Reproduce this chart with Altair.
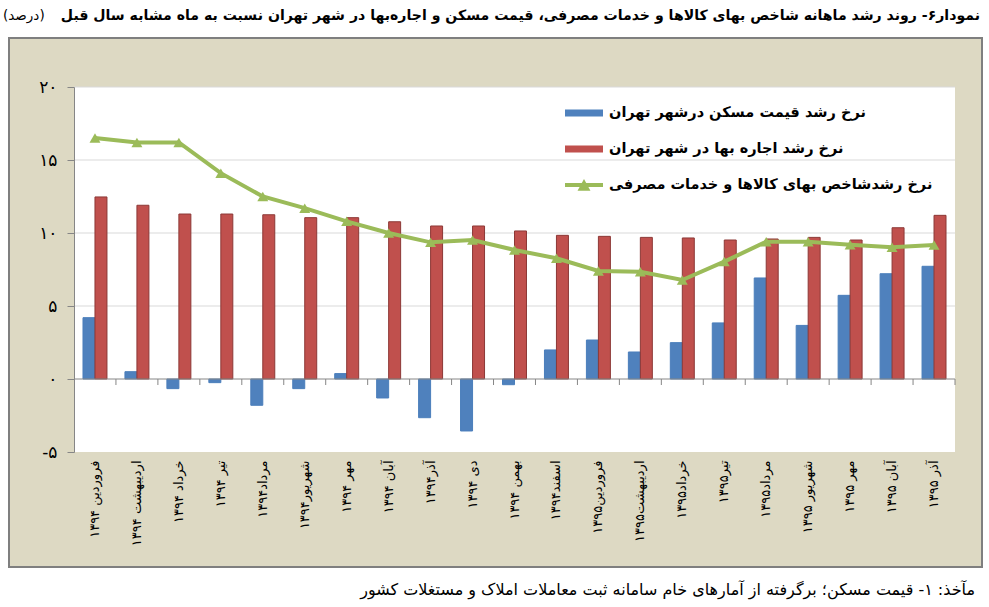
import altair as alt
import pandas as pd

# ---------------- data ----------------
MONTHS = ["فروردین ۱۳۹۴", "اردیبهشت ۱۳۹۴", "خرداد ۱۳۹۴", "تیر ۱۳۹۴", "مرداد۱۳۹۴",
          "شهریور۱۳۹۴", "مهر ۱۳۹۴", "آبان ۱۳۹۴", "آذر۱۳۹۴", "دی ۱۳۹۴", "بهمن ۱۳۹۴",
          "اسفند۱۳۹۴", "فروردین۱۳۹۵", "اردیبهشت۱۳۹۵", "خرداد۱۳۹۵", "تیر۱۳۹۵",
          "مرداد۱۳۹۵", "شهریور ۱۳۹۵", "مهر ۱۳۹۵", "آبان ۱۳۹۵", "آذر ۱۳۹۵"]
HOUSING = [4.2, 0.5, -0.66, -0.25, -1.8, -0.66, 0.37, -1.3, -2.65, -3.56, -0.39,
           1.99, 2.67, 1.85, 2.49, 3.84, 6.92, 3.67, 5.73, 7.21, 7.72]
RENT = [12.47, 11.9, 11.3, 11.3, 11.25, 11.05, 11.05, 10.77, 10.48, 10.48, 10.14,
        9.84, 9.77, 9.7, 9.66, 9.52, 9.59, 9.7, 9.52, 10.36, 11.21]
CPI = [16.5, 16.2, 16.2, 14.1, 12.5, 11.7, 10.8, 10.0, 9.36, 9.52, 8.84,
       8.27, 7.4, 7.35, 6.78, 8.04, 9.4, 9.4, 9.2, 9.02, 9.18]

S_HOUSE = "نرخ رشد قیمت مسکن  درشهر تهران"
S_RENT = "نرخ رشد اجاره بها در شهر تهران"
S_CPI = "نرخ رشدشاخص بهای کالاها و خدمات مصرفی"

Y_TICKS = [-5, 0, 5, 10, 15, 20]
Y_TICK_LABELS = ["-۵", "۰", "۵", "۱۰", "۱۵", "۲۰"]
GRID_VALUES = [5, 10, 15, 20]

TITLE = "نمودار۶- روند رشد ماهانه شاخص بهای کالاها و خدمات مصرفی، قیمت مسکن و اجاره‌بها در شهر تهران نسبت به ماه مشابه سال قبل"
UNIT = "(درصد)"
FOOTER = "مآخذ: ۱- قیمت مسکن؛ برگرفته از آمارهای خام سامانه ثبت معاملات املاک و مستغلات کشور"

# ---------------- styling ----------------
FONT = "DejaVu Sans"
BLUE, RED, GREEN = "#4F81BD", "#C0504D", "#9BBB59"
BLUE_EDGE, RED_EDGE = "#4A7EBB", "#8C3836"
BEIGE, FRAME = "#DDD9C3", "#7F7F7F"
W, H = 881, 365

bars_df = pd.DataFrame({
    "month": MONTHS * 2,
    "series": [S_HOUSE] * len(MONTHS) + [S_RENT] * len(MONTHS),
    "value": HOUSING + RENT,
})
cpi_df = pd.DataFrame({"month": MONTHS, "series": [S_CPI] * len(MONTHS), "value": CPI})
month_df = pd.DataFrame({"month": MONTHS})
grid_df = pd.DataFrame({"v": GRID_VALUES})
one = pd.DataFrame({"k": [0]})

label_map = "{" + ",".join(f"'{v}':'{l}'" for v, l in zip(Y_TICKS, Y_TICK_LABELS)) + "}"

y_axis = alt.Axis(values=Y_TICKS, labelExpr=f"{label_map}[''+datum.value]", title=None,
                  grid=False, domainColor="#868686", tickColor="#868686", tickSize=7,
                  labelFontSize=17, labelPadding=10, labelFont=FONT, labelColor="black",
                  zindex=1)
y_scale = alt.Scale(domain=[-5, 20], nice=False, zero=False)

x_axis = alt.Axis(title=None, labelAngle=-90, labelFontSize=13, labelFont=FONT,
                  labelColor="black", labelPadding=8, ticks=False, domain=False,
                  labelLimit=200, zindex=1)
x_scale = alt.Scale(paddingInner=0, paddingOuter=0)


def xenc(**kw):
    return alt.X("month:N", sort=MONTHS, scale=x_scale, axis=x_axis, **kw)


def yenc(field):
    return alt.Y(field, scale=y_scale, axis=y_axis)


BAR_SYMBOL = "M-1,-0.18H1V0.18H-1Z"
LINE_SYMBOL = "M-1,-0.1H1V0.1H-1Z M-0.34,0.3L0,-0.32L0.34,0.3Z"

frame = alt.Chart(one).mark_rect(fill=BEIGE, stroke=FRAME, strokeWidth=2).encode(
    x=alt.value(-65), x2=alt.value(W + 27), y=alt.value(-49), y2=alt.value(H + 115))
plotbg = alt.Chart(one).mark_rect(fill="white").encode(
    x=alt.value(0), x2=alt.value(W), y=alt.value(0), y2=alt.value(H))

grid = alt.Chart(grid_df).mark_rule(color="#D9D9D9", strokeWidth=1).encode(y=yenc("v:Q"))

bars = alt.Chart(bars_df).mark_bar(strokeWidth=1).encode(
    x=xenc(),
    xOffset=alt.XOffset("series:N", sort=[S_HOUSE, S_RENT],
                        scale=alt.Scale(paddingOuter=0.75, paddingInner=0)),
    y=yenc("value:Q"),
    color=alt.Color("series:N", sort=[S_HOUSE, S_RENT],
                    scale=alt.Scale(domain=[S_HOUSE, S_RENT], range=[BLUE, RED]),
                    legend=alt.Legend(title=None, orient="none", legendX=491, legendY=7,
                                      symbolType=BAR_SYMBOL, symbolSize=1444,
                                      symbolStrokeWidth=0, labelFontSize=14.5,
                                      labelFontWeight="bold", labelFont=FONT,
                                      labelColor="black", labelLimit=400,
                                      rowPadding=10, padding=0, labelOffset=6)),
    stroke=alt.Stroke("series:N", scale=alt.Scale(domain=[S_HOUSE, S_RENT],
                                                  range=[BLUE_EDGE, RED_EDGE]),
                      legend=None),
)

zero = alt.Chart(one).mark_rule(color="#868686", strokeWidth=1).encode(y=alt.datum(0))
ticks = alt.Chart(month_df).mark_rule(color="#868686", strokeWidth=1, y2Offset=6).encode(
    x=xenc(bandPosition=1), y=alt.datum(0), y2=alt.datum(0))

line = alt.Chart(cpi_df).mark_line(color=GREEN, strokeWidth=4).encode(
    x=xenc(), y=yenc("value:Q"))
points = alt.Chart(cpi_df).mark_point(shape="triangle-up", filled=True, size=120,
                                      opacity=1).encode(
    x=xenc(), y=yenc("value:Q"),
    fill=alt.Fill("series:N", scale=alt.Scale(domain=[S_CPI], range=[GREEN]),
                  legend=alt.Legend(title=None, orient="none", legendX=491, legendY=79,
                                    symbolType=LINE_SYMBOL, symbolSize=1444,
                                    symbolStrokeWidth=0, labelFontSize=14.5,
                                    labelFontWeight="bold", labelFont=FONT,
                                    labelColor="black", labelLimit=400,
                                    padding=0, labelOffset=6)),
)

title = alt.Chart(pd.DataFrame({"t": [TITLE]})).mark_text(
    align="right", baseline="middle", fontSize=14.1, fontWeight="bold", font=FONT,
    color="black").encode(x=alt.value(W + 25), y=alt.value(-71), text="t:N")
unit = alt.Chart(pd.DataFrame({"t": [UNIT]})).mark_text(
    align="left", baseline="middle", fontSize=13.5, font=FONT, color="black").encode(
    x=alt.value(-71), y=alt.value(-71), text="t:N")
footer = alt.Chart(pd.DataFrame({"t": [FOOTER]})).mark_text(
    align="right", baseline="middle", fontSize=16, font=FONT, color="black").encode(
    x=alt.value(W + 20), y=alt.value(H + 138), text="t:N")

chart = alt.layer(frame, plotbg, grid, bars, zero, ticks, line, points, title, unit, footer
                  ).resolve_scale(color="independent", fill="independent").properties(
    width=W, height=H,
    padding={"left": 74, "top": 87, "right": 34, "bottom": 155},
    autosize=alt.AutoSizeParams(type="none"),
    background="white",
).configure_view(stroke=None)

chart.save("out.html", embed_options={"renderer": "svg", "actions": False})
